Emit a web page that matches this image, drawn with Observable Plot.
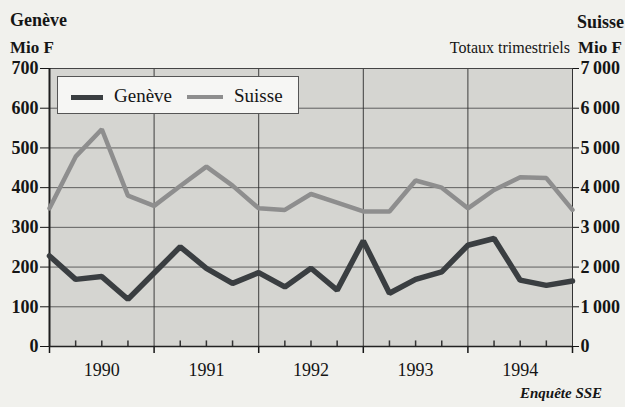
<!DOCTYPE html>
<html><head><meta charset="utf-8">
<script src="https://cdn.jsdelivr.net/npm/d3@7"></script>
<script src="https://cdn.jsdelivr.net/npm/@observablehq/plot@0.6"></script>
<style>
html,body{margin:0;padding:0;background:#f1f1ed;}
#wrap{position:relative;width:625px;height:407px;overflow:hidden;font-family:"Liberation Serif","Times New Roman",serif;color:#151515;}
#chart{position:absolute;left:0;top:0;}
.lbl{position:absolute;white-space:nowrap;line-height:1;}
#legend{position:absolute;left:57px;top:76px;width:240px;height:36px;border:1px solid #555;background:#f6f6f4;}
#legend .sw{position:absolute;top:18px;height:5px;}
#legend .tx{position:absolute;top:9px;font-size:19px;line-height:1;}
</style></head><body>
<div id="wrap">
  <div id="chart"></div>
  <div class="lbl" style="left:10px;top:11px;font-size:18px;font-weight:bold">Genève</div>
  <div class="lbl" style="left:10px;top:39px;font-size:17px;font-weight:bold">Mio F</div>
  <div class="lbl" style="left:577px;top:13px;font-size:18px;font-weight:bold">Suisse</div>
  <div class="lbl" style="right:55px;top:40px;font-size:16px">Totaux trimestriels</div>
  <div class="lbl" style="left:578px;top:39px;font-size:17px;font-weight:bold">Mio F</div>
  <div class="lbl" style="left:520px;top:386px;font-size:15px;font-weight:bold;font-style:italic">Enquête SSE</div>
  <div id="legend">
    <div class="sw" style="left:13px;width:32px;background:#3a3e41"></div>
    <div class="tx" style="left:56px">Genève</div>
    <div class="sw" style="left:129px;width:36px;background:#8e8e8e;height:4px"></div>
    <div class="tx" style="left:176px">Suisse</div>
  </div>
</div>
<script>
// quarter positions (quarter boundaries 1990 → end 1994)
const quarterIndex = [0,1,2,3,4,5,6,7,8,9,10,11,12,13,14,15,16,17,18,19,20];
// Genève, Mio F (left axis)
const geneve = [228,169,176,119,185,251,197,159,186,150,197,142,266,134,169,188,255,272,167,154,165];
// Suisse, Mio F (right axis)
const suisse = [3480,4780,5470,3800,3540,4040,4530,4050,3480,3440,3840,3620,3400,3400,4180,4000,3480,3940,4260,4240,3440];
const yearLabels = ["1990","1991","1992","1993","1994"];
const yearCenters = [2,6,10,14,18];
const yearBounds = [0,4,8,12,16,20];
const quarterTicks = [1,2,3,5,6,7,9,10,11,13,14,15,17,18,19];
const leftTicks = [0,100,200,300,400,500,600,700];
const rightLabels = ["0","1\u2009000","2\u2009000","3\u2009000","4\u2009000","5\u2009000","6\u2009000","7\u2009000"];
const gridValues = [100,200,300,400,500,600];
const ratio = 10; // Suisse scale = 10 × Genève scale

const chart = Plot.plot({
  width: 625, height: 407,
  marginLeft: 49, marginRight: 53, marginTop: 68, marginBottom: 61,
  x: {domain: [0, 20]},
  y: {domain: [0, 700]},
  style: {background: "transparent", fontFamily: "'Liberation Serif','Times New Roman',serif", fontSize: "18px", color: "#151515", overflow: "visible"},
  marks: [
    Plot.frame({fill: "#d5d5d1", stroke: null}),
    Plot.gridY(gridValues, {stroke: "#4a4a4a", strokeOpacity: 0.85}),
    Plot.gridX(yearBounds, {stroke: "#2e2e2e", strokeOpacity: 0.9}),
    Plot.ruleY([700], {stroke: "#444", strokeWidth: 1}),
    Plot.ruleX([20], {stroke: "#333", strokeWidth: 1}),
    Plot.ruleX(quarterTicks, {x: d => d, y1: 0, y2: 14, stroke: "#333", strokeWidth: 1.5}),
    Plot.axisY(leftTicks, {anchor: "left", tickSize: 9, tickPadding: 2, fontWeight: "bold", label: null}),
    Plot.axisY(leftTicks, {anchor: "right", tickSize: 6, tickPadding: 2, fontWeight: "bold", label: null, tickFormat: (d, i) => rightLabels[i]}),
    Plot.axisX(yearBounds, {tickSize: 7, tickFormat: () => "", label: null, strokeWidth: 1.5}),
    Plot.axisX(yearCenters, {tickSize: 0, tickPadding: 17, fontSize: 18, label: null, tickFormat: (d, i) => yearLabels[i]}),
    Plot.ruleY([0], {stroke: "#222", strokeWidth: 1.5}),
    Plot.ruleX([0], {stroke: "#1e1e1e", strokeWidth: 2}),
    Plot.line(quarterIndex, {x: d => d, y: (d, i) => suisse[i] / ratio, stroke: "#8e8e8e", strokeWidth: 4.5, strokeLinejoin: "miter"}),
    Plot.line(quarterIndex, {x: d => d, y: (d, i) => geneve[i], stroke: "#3a3e41", strokeWidth: 5.5, strokeLinejoin: "miter"})
  ]
});
document.getElementById("chart").appendChild(chart);
</script>
</body></html>
